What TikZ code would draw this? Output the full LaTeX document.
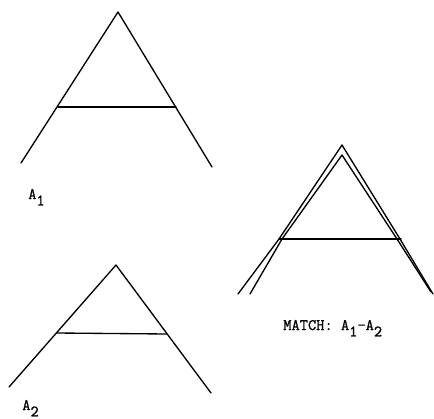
\documentclass[tikz,border=0pt]{standalone}
\usepackage{fontspec}
\newfontfamily\typer[FakeBold=1.2]{Latin Modern Mono}
\newcommand{\lowr}[1]{\raisebox{-0.4em}{#1}}
\begin{document}
\begin{tikzpicture}[line join=round, line cap=round, x=0.75pt, y=-0.75pt]
	\tikzset{every node/.style={font=\fontsize{12}{14}\typer, inner sep=0pt, anchor=base west}}
	\tikzset{stroke/.style={line width=1pt}}
	\useasboundingbox (0,0) rectangle (434,418);
	\draw[stroke] (21,163)--(118,12)--(212,167);
	\draw[stroke] (58,107)--(176,107);
	\node (aone) at (28,199) {A\lowr{1}};
	\draw[stroke] (9,387)--(116,265)--(211,393);
	\draw[stroke] (57,333)--(167,334);
	\node (atwo) at (22,410) {A\lowr{2}};
	\draw[stroke] (238,294)--(279,239)--(342,145)--(400,239)--(433,294);
	\draw[stroke] (250,294)--(282,239)--(342,155)--(397,239)--(431,292);
	\draw[stroke] (279,239)--(401,239);
	\node (match) at (283,330) {MATCH: A\lowr{1}-A\lowr{2}};
\end{tikzpicture}
\end{document}
